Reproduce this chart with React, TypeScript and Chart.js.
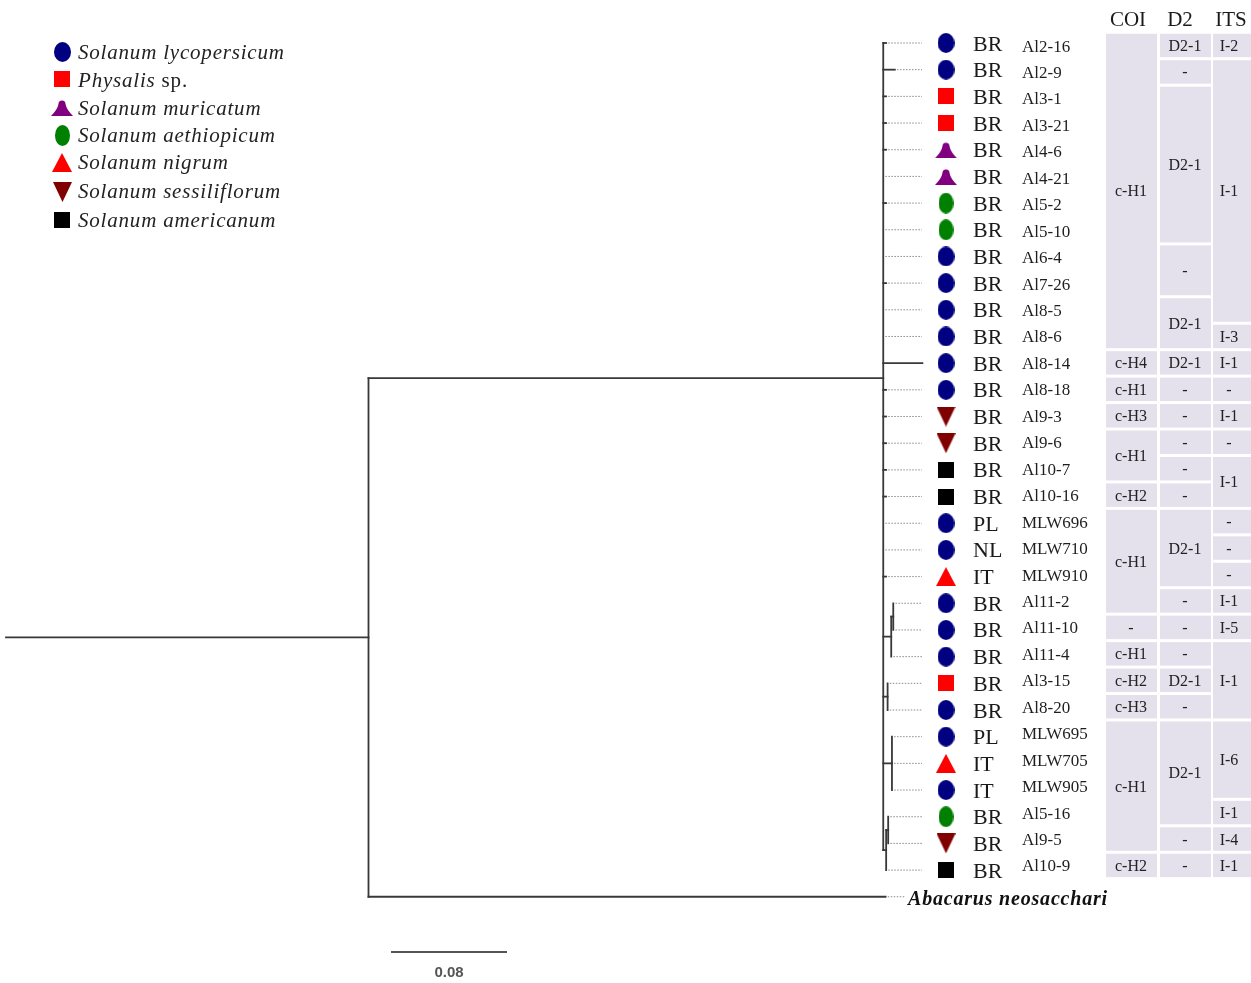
import React, { useEffect, useRef } from 'react';
import { Chart, registerables } from 'chart.js';
Chart.register(...registerables);

// ---------- data ----------
const speciesNames = [
  'Solanum lycopersicum',
  'Physalis',
  'Solanum muricatum',
  'Solanum aethiopicum',
  'Solanum nigrum',
  'Solanum sessiliflorum',
  'Solanum americanum',
];
const speciesColors = ['#000080', '#FF0000', '#800080', '#008000', '#FF0000', '#800000', '#000000'];
const speciesShapes = ['blob', 'square', 'bell', 'oval', 'triangle', 'down', 'square'];

const leafIds = [
  'Al2-16', 'Al2-9', 'Al3-1', 'Al3-21', 'Al4-6', 'Al4-21', 'Al5-2', 'Al5-10', 'Al6-4', 'Al7-26',
  'Al8-5', 'Al8-6', 'Al8-14', 'Al8-18', 'Al9-3', 'Al9-6', 'Al10-7', 'Al10-16', 'MLW696', 'MLW710',
  'MLW910', 'Al11-2', 'Al11-10', 'Al11-4', 'Al3-15', 'Al8-20', 'MLW695', 'MLW705', 'MLW905', 'Al5-16',
  'Al9-5', 'Al10-9',
];
const leafCountries = [
  'BR', 'BR', 'BR', 'BR', 'BR', 'BR', 'BR', 'BR', 'BR', 'BR',
  'BR', 'BR', 'BR', 'BR', 'BR', 'BR', 'BR', 'BR', 'PL', 'NL',
  'IT', 'BR', 'BR', 'BR', 'BR', 'BR', 'PL', 'IT', 'IT', 'BR',
  'BR', 'BR',
];
const leafHosts = [0, 0, 1, 1, 2, 2, 3, 3, 0, 0, 0, 0, 0, 0, 5, 5, 6, 6, 0, 0, 4, 0, 0, 0, 1, 0, 0, 4, 0, 3, 5, 6];
// terminal branch lengths (substitutions/site)
const leafBranch = [
  0.002, 0.008, 0.002, 0.002, 0.002, 0, 0.002, 0, 0, 0.002,
  0, 0, 0.027, 0.002, 0.002, 0.002, 0.002, 0.002, 0, 0,
  0.002, 0, 0, 0, 0, 0, 0, 0, 0, 0,
  0, 0,
];
const rootBranch = 0.25;
const ingroupBranch = 0.355;
const outgroupBranch = 0.3566;
const outgroupName = 'Abacarus neosacchari';
const scaleBarValue = 0.08;

const tableHeaders = ['COI', 'D2', 'ITS'];
type Cell = [string, number, number];
const coiCells: Cell[] = [
  ['c-H1', 0, 11], ['c-H4', 12, 12], ['c-H1', 13, 13], ['c-H3', 14, 14], ['c-H1', 15, 16],
  ['c-H2', 17, 17], ['c-H1', 18, 21], ['-', 22, 22], ['c-H1', 23, 23], ['c-H2', 24, 24],
  ['c-H3', 25, 25], ['c-H1', 26, 30], ['c-H2', 31, 31],
];
const d2Cells: Cell[] = [
  ['D2-1', 0, 0], ['-', 1, 1], ['D2-1', 2, 7], ['-', 8, 9], ['D2-1', 10, 11], ['D2-1', 12, 12],
  ['-', 13, 13], ['-', 14, 14], ['-', 15, 15], ['-', 16, 16], ['-', 17, 17], ['D2-1', 18, 20],
  ['-', 21, 21], ['-', 22, 22], ['-', 23, 23], ['D2-1', 24, 24], ['-', 25, 25], ['D2-1', 26, 29],
  ['-', 30, 30], ['-', 31, 31],
];
const itsCells: Cell[] = [
  ['I-2', 0, 0], ['I-1', 1, 10], ['I-3', 11, 11], ['I-1', 12, 12], ['-', 13, 13], ['I-1', 14, 14],
  ['-', 15, 15], ['I-1', 16, 17], ['-', 18, 18], ['-', 19, 19], ['-', 20, 20], ['I-1', 21, 21],
  ['I-5', 22, 22], ['I-1', 23, 25], ['I-6', 26, 28], ['I-1', 29, 29], ['I-4', 30, 30], ['I-1', 31, 31],
];

// ---------- tree topology ----------
type TNode = { len: number; leaf?: number; kids?: TNode[] };
const lf = (i: number): TNode => ({ len: leafBranch[i], leaf: i });
const tree: TNode = {
  len: rootBranch,
  kids: [
    {
      len: ingroupBranch,
      kids: [
        lf(0), lf(1), lf(2), lf(3), lf(4), lf(5), lf(6), lf(7), lf(8), lf(9), lf(10),
        lf(11), lf(12), lf(13), lf(14), lf(15), lf(16), lf(17), lf(18), lf(19), lf(20),
        { len: 0.0055, kids: [{ len: 0.0014, kids: [lf(21), lf(22)] }, lf(23)] },
        { len: 0.003, kids: [lf(24), lf(25)] },
        { len: 0.006, kids: [lf(26), lf(27), lf(28)] },
        { len: 0.002, kids: [{ len: 0.0014, kids: [lf(29), lf(30)] }, lf(31)] },
      ],
    },
    { len: outgroupBranch, leaf: 32 },
  ],
};

// ---------- layout constants ----------
const W = 1251;
const H = 983;
const PX_PER_UNIT = 1450;
const ROOT_PX = 6;
const tipAlign = (922 - ROOT_PX) / PX_PER_UNIT;
const outgroupTipEnd = (905 - ROOT_PX) / PX_PER_UNIT;
const scaleBarStart = (391 - ROOT_PX) / PX_PER_UNIT;
const markerX = 946;
const countryX = 973;
const idX = 1022;
const colEdges = [[1106, 1157], [1160, 1211], [1213, 1251]];
const colTextX = [1131, 1185, 1229];
const headerX = [1128, 1180, 1231];
const legendMarkerX = 62;
const legendTextX = 78;
const legendMarkerY = [52, 79, 107, 135, 162, 192, 220];
const legendBaseY = [59, 87, 115, 142, 169, 198, 227];
const SERIF = '"Liberation Serif", "Times New Roman", serif';
const cellColor = '#E5E1EC';

function makeMarker(shape: string, color: string): HTMLCanvasElement {
  const c = document.createElement('canvas');
  let w = 17, h = 20;
  if (shape === 'oval') { w = 15; h = 21; }
  if (shape === 'square') { w = 16; h = 16; }
  if (shape === 'triangle') { w = 20; h = 19; }
  if (shape === 'bell') { w = 22; h = 17; }
  if (shape === 'down') { w = 19; h = 20; }
  c.width = w; c.height = h;
  const g = c.getContext('2d')!;
  g.fillStyle = color;
  g.beginPath();
  if (shape === 'blob' || shape === 'oval') {
    g.ellipse(w / 2, h / 2, w / 2, h / 2, 0, 0, Math.PI * 2);
  } else if (shape === 'square') {
    g.rect(0, 0, w, h);
  } else if (shape === 'triangle') {
    g.moveTo(w / 2, 0); g.lineTo(w, h); g.lineTo(0, h); g.closePath();
  } else if (shape === 'down') {
    g.moveTo(0, 0); g.lineTo(w, 0); g.lineTo(w / 2, h); g.closePath();
  } else if (shape === 'bell') {
    g.moveTo(0, h);
    g.lineTo(w, h);
    g.quadraticCurveTo(w * 0.7, h * 0.62, w * 0.66, h * 0.3);
    g.arc(w / 2, h * 0.3, w * 0.16, 0, Math.PI, true);
    g.quadraticCurveTo(w * 0.3, h * 0.62, 0, h);
    g.closePath();
  }
  g.fill();
  return c;
}

function text(ctx: CanvasRenderingContext2D, s: string, x: number, y: number, font: string, color: string, align: CanvasTextAlign = 'left', spacing = 0) {
  ctx.font = font;
  ctx.fillStyle = color;
  ctx.textAlign = align;
  ctx.textBaseline = 'alphabetic';
  (ctx as any).letterSpacing = spacing + 'px';
  ctx.fillText(s, x, y);
  (ctx as any).letterSpacing = '0px';
}

export default function App() {
  const ref = useRef<HTMLCanvasElement>(null);

  useEffect(() => {
    const canvas = ref.current!;
    const markerImgs = speciesShapes.map((s, i) => makeMarker(s, speciesColors[i]));

    // tree segments
    const horiz: [number, number, number][] = [];
    const vert: [number, number, number][] = [];
    const tips: [number, number][] = [];
    const layout = (node: TNode, parentX: number): number => {
      const x = parentX + node.len;
      let y: number;
      if (node.leaf !== undefined) {
        y = node.leaf;
        tips.push([x, y]);
      } else {
        const ys = node.kids!.map((k) => layout(k, x));
        y = ys.reduce((a, b) => a + b, 0) / ys.length;
        vert.push([x, Math.min(...ys), Math.max(...ys)]);
      }
      if (node.len > 0) horiz.push([parentX, x, y]);
      return y;
    };
    layout(tree, 0);

    const solid = { showLine: true, pointRadius: 0, borderColor: '#383838', borderWidth: 1.8, borderCapStyle: 'square' as const, fill: false, xAxisID: 'x', yAxisID: 'y' };
    const datasets: any[] = [];
    horiz.forEach(([x0, x1, y]) => datasets.push({ ...solid, data: [{ x: x0, y }, { x: x1, y }] }));
    vert.forEach(([x, y0, y1]) => datasets.push({ ...solid, data: [{ x, y: y0 }, { x, y: y1 }] }));
    tips.forEach(([x, y]) => {
      const end = y === 32 ? outgroupTipEnd : tipAlign;
      if (x < end - 0.001) {
        datasets.push({ showLine: true, pointRadius: 0, borderColor: '#8a8a8a', borderWidth: 1, borderDash: [1.5, 1.5], fill: false, xAxisID: 'x', yAxisID: 'y', data: [{ x: x + 0.0015, y }, { x: end, y }] });
      }
    });
    // scale bar
    datasets.push({ showLine: true, pointRadius: 0, borderColor: '#555', borderWidth: 2, fill: false, xAxisID: 'x', yAxisID: 'yl', data: [{ x: scaleBarStart, y: 952 }, { x: scaleBarStart + scaleBarValue, y: 952 }] });
    // host markers
    datasets.push({
      showLine: false, xAxisID: 'xl', yAxisID: 'y', pointRadius: 10,
      data: leafIds.map((_, i) => ({ x: markerX, y: i })),
      pointStyle: leafHosts.map((h) => markerImgs[h]),
    });

    const annot = {
      id: 'annot',
      beforeDatasetsDraw(chart: any) {
        const { ctx, scales } = chart;
        const { xl, yt } = scales;
        ctx.save();
        [coiCells, d2Cells, itsCells].forEach((cells, ci) => {
          const x0 = xl.getPixelForValue(colEdges[ci][0]);
          const x1 = xl.getPixelForValue(colEdges[ci][1]);
          cells.forEach(([, r0, r1]) => {
            const top = yt.getPixelForValue(r0 - 0.5) + 1.5;
            const bot = yt.getPixelForValue(r1 + 0.5) - 1.5;
            ctx.fillStyle = cellColor;
            ctx.fillRect(x0, top, x1 - x0, bot - top);
          });
        });
        ctx.restore();
      },
      afterDatasetsDraw(chart: any) {
        const { ctx, scales } = chart;
        const { x, xl, y, yt, yl } = scales;
        ctx.save();
        // table text
        [coiCells, d2Cells, itsCells].forEach((cells, ci) => {
          cells.forEach(([t, r0, r1]) => {
            const cy = (yt.getPixelForValue(r0) + yt.getPixelForValue(r1)) / 2;
            text(ctx, t, xl.getPixelForValue(colTextX[ci]), cy + 5.5, `16px ${SERIF}`, '#222', 'center');
          });
        });
        tableHeaders.forEach((h, i) => text(ctx, h, xl.getPixelForValue(headerX[i]), yl.getPixelForValue(26), `21px ${SERIF}`, '#1a1a1a', 'center'));
        // leaf labels
        leafIds.forEach((id, i) => {
          text(ctx, leafCountries[i], xl.getPixelForValue(countryX), y.getPixelForValue(i) + 7.5, `22px ${SERIF}`, '#1a1a1a');
          text(ctx, id, xl.getPixelForValue(idX), yt.getPixelForValue(i) + 6, `17px ${SERIF}`, '#1e1e1e');
        });
        // outgroup
        text(ctx, outgroupName, xl.getPixelForValue(908), y.getPixelForValue(32) + 8, `italic bold 20px ${SERIF}`, '#111', 'left', 0.8);
        // scale label
        text(ctx, String(scaleBarValue), x.getPixelForValue(scaleBarStart + scaleBarValue / 2), yl.getPixelForValue(977), '600 15px "Liberation Sans", Arial, sans-serif', '#555', 'center');
        // legend
        speciesNames.forEach((name, i) => {
          const img = markerImgs[i];
          const mx = xl.getPixelForValue(legendMarkerX);
          const my = yl.getPixelForValue(legendMarkerY[i]);
          ctx.drawImage(img, Math.round(mx - img.width / 2), Math.round(my - img.height / 2));
          const tx = xl.getPixelForValue(legendTextX);
          const ty = yl.getPixelForValue(legendBaseY[i]);
          text(ctx, name, tx, ty, `italic 21px ${SERIF}`, '#222', 'left', 0.8);
          if (name === 'Physalis') {
            ctx.font = `italic 21px ${SERIF}`;
            (ctx as any).letterSpacing = '0.8px';
            const w = ctx.measureText(name).width;
            (ctx as any).letterSpacing = '0px';
            text(ctx, ' sp.', tx + w, ty, `21px ${SERIF}`, '#222', 'left', 0.8);
          }
        });
        ctx.restore();
      },
    };

    const chart = new Chart(canvas, {
      type: 'scatter',
      data: { datasets },
      options: {
        animation: false,
        responsive: false,
        maintainAspectRatio: false,
        events: [],
        layout: { padding: 0, autoPadding: false },
        plugins: { legend: { display: false }, tooltip: { enabled: false }, title: { display: false } },
        scales: {
          x: { type: 'linear', display: false, min: -ROOT_PX / PX_PER_UNIT, max: -ROOT_PX / PX_PER_UNIT + W / PX_PER_UNIT },
          xl: { type: 'linear', axis: 'x', display: false, min: 0, max: W },
          y: { type: 'linear', display: false, reverse: true, min: -43 / 26.68, max: -43 / 26.68 + H / 26.68 },
          yt: { type: 'linear', axis: 'y', display: false, reverse: true, min: -45.5 / 26.45, max: -45.5 / 26.45 + H / 26.45 },
          yl: { type: 'linear', axis: 'y', display: false, reverse: true, min: 0, max: H },
        },
      } as any,
      plugins: [annot],
    });
    return () => chart.destroy();
  }, []);

  return (
    <div style={{ position: 'absolute', left: 0, top: 0, width: W, height: H, background: '#fff' }}>
      <canvas ref={ref} width={W} height={H} style={{ display: 'block' }} />
    </div>
  );
}
